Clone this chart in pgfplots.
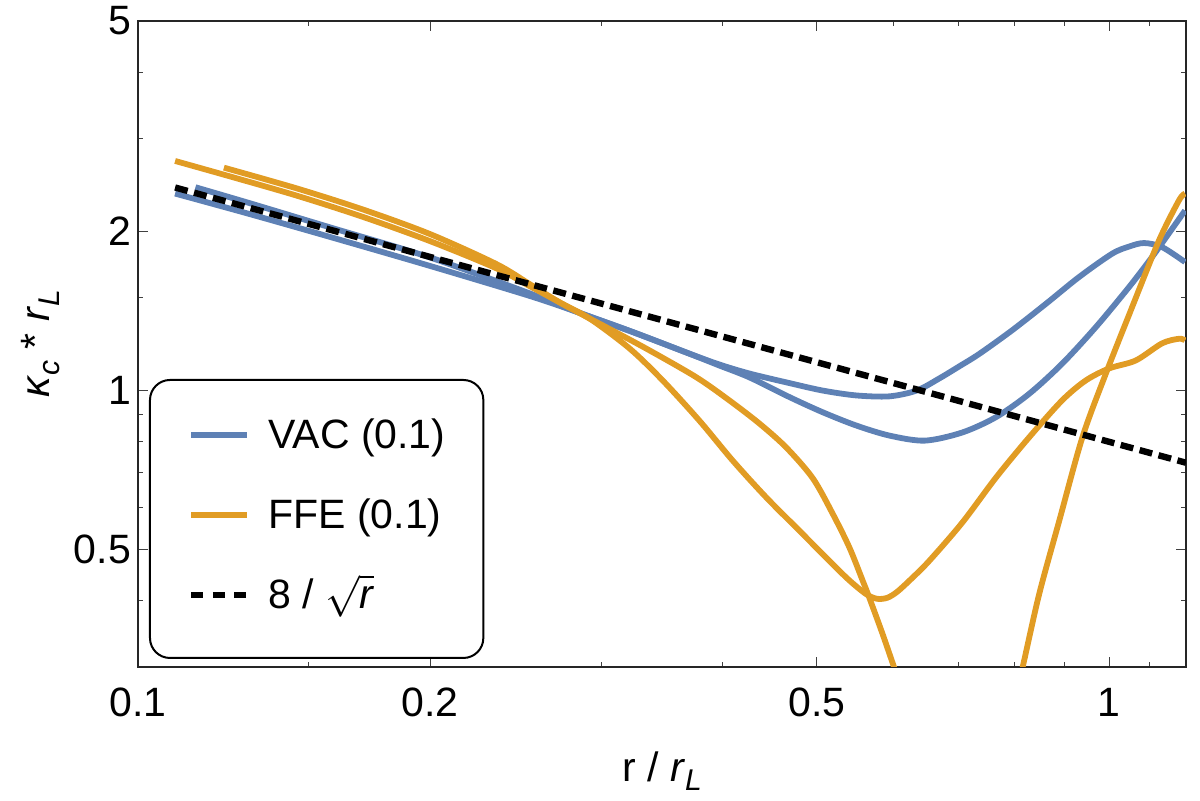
\documentclass[border=0pt]{standalone}
\usepackage{fontspec}
\setmainfont{Liberation Sans}
\usepackage{pgfplots}
\pgfplotsset{compat=1.18}
\definecolor{mblue}{RGB}{94,129,181}
\definecolor{morange}{RGB}{225,156,36}
\newcommand\sub[1]{\raisebox{-0.24em}{\fontsize{15}{15}\selectfont\textit{#1}}}
\begin{document}
\begin{tikzpicture}[font=\fontsize{20.5}{24.6}\selectfont]
\path[use as bounding box] (0,0) rectangle (600pt,400.5pt);
\begin{axis}[
  at={(69pt,67pt)}, anchor=south west,
  scale only axis, width=524pt, height=323pt,
  xmode=log, ymode=log,
  xmin=0.1, xmax=1.2, ymin=0.3, ymax=5,
  xtick={0.1,0.2,0.5,1}, xticklabels={0.1,0.2,0.5,1},
  ytick={0.5,1,2,5}, yticklabels={0.5,1,2,5},
  minor xtick={0.15,0.3,0.4,0.6,0.7,0.8,0.9,1.1},
  minor ytick={0.4,0.6,0.7,0.8,0.9,1.5,3,4},
  tick align=inside,
  major tick length=5pt, minor tick length=2.5pt,
  every tick/.style={black!75, line width=0.5pt},
  axis line style={black!85, line width=0.9pt},
  xticklabel style={yshift=-7pt},
  xlabel={r / \textit{r}\sub{L}},
  ylabel={\textit{κ}\sub{c} * \textit{r}\sub{L}},
  xlabel style={at={(axis description cs:0.5,-0.1765)}, anchor=base},
  ylabel style={at={(axis description cs:-0.084,0.5)}, anchor=base},
  legend image code/.code={\draw[#1] (0pt,7pt) -- (28pt,7pt);},
  legend style={
    at={(rel axis cs:0.0105,0.0124)}, anchor=south west,
    draw=black, line width=1pt, rounded corners=10pt,
    inner xsep=19pt, inner ysep=19.5pt, row sep=20pt,
    font=\fontsize{20.5}{24.6}\selectfont,
    nodes={inner sep=0pt, text height=15pt, text depth=5pt, anchor=base west},
    /tikz/every odd column/.append style={column sep=9pt},
  },
]
% VAC (0.1)
\addplot[mblue, line width=2.9pt, smooth, tension=0.5] coordinates {
(0.1092,2.358) (0.1304,2.156) (0.1576,1.953) (0.1998,1.721) (0.2531,1.510)
(0.2851,1.402) (0.3233,1.290) (0.3698,1.174) (0.3970,1.120) (0.4262,1.077)
(0.4686,1.033) (0.5070,1.000) (0.5488,0.979) (0.5938,0.975) (0.6337,1.000)
(0.6685,1.054) (0.7010,1.111) (0.7351,1.173) (0.7947,1.300) (0.8609,1.459)
(0.9314,1.640) (1.0072,1.815) (1.0500,1.874) (1.0865,1.901) (1.1337,1.868)
(1.1972,1.750)};
\addlegendentry{VAC (0.1)}
\addplot[mblue, line width=2.9pt, smooth, tension=0.5, forget plot] coordinates {
(0.1146,2.424) (0.1304,2.261) (0.1576,2.036) (0.1998,1.786) (0.2531,1.527)
(0.2851,1.402) (0.3233,1.290) (0.3698,1.174) (0.3970,1.115) (0.4262,1.059)
(0.4686,0.972) (0.5070,0.910) (0.5488,0.859) (0.5938,0.822) (0.6459,0.804)
(0.7060,0.833) (0.7651,0.891) (0.8275,0.986) (0.8946,1.124) (0.9690,1.318)
(1.0486,1.570) (1.1073,1.789) (1.1525,1.984) (1.1972,2.190)};
% FFE (0.1)
\addplot[morange, line width=2.9pt, smooth, tension=0.5] coordinates {
(0.1226,2.640) (0.1457,2.412) (0.1705,2.200) (0.1998,1.978) (0.2339,1.735)
(0.2531,1.590) (0.2718,1.468) (0.2917,1.369) (0.3208,1.201) (0.3470,1.045)
(0.3786,0.877) (0.4097,0.737) (0.4435,0.628) (0.4799,0.543) (0.5275,0.456)
(0.5467,0.4291) (0.5636,0.4108) (0.5771,0.4037) (0.5910,0.4055) (0.6051,0.4163)
(0.6256,0.4403) (0.6529,0.4763) (0.7060,0.5625) (0.7651,0.6852) (0.8275,0.816)
(0.8946,0.958) (0.9463,1.045) (1.0000,1.101) (1.0653,1.140) (1.1337,1.228)
(1.1803,1.253) (1.1972,1.244)};
\addlegendentry{FFE (0.1)}
\addplot[morange, line width=2.9pt, smooth, tension=0.5, forget plot] coordinates {
(0.1092,2.718) (0.1243,2.542) (0.1457,2.337) (0.1705,2.130) (0.1998,1.918)
(0.2339,1.703) (0.2531,1.576) (0.2718,1.468) (0.2917,1.369) (0.3011,1.328)
(0.3336,1.201) (0.3757,1.060) (0.4064,0.958) (0.4365,0.866) (0.4649,0.781)
(0.4952,0.683) (0.5192,0.585) (0.5402,0.505) (0.5575,0.437) (0.5664,0.4055)
(0.5846,0.346) (0.6009,0.299) (0.6154,0.2646)};
\addplot[morange, line width=2.9pt, smooth, tension=0.5, forget plot] coordinates {
(0.7986,0.259) (0.8144,0.299) (0.8472,0.412) (0.8885,0.567) (0.9387,0.816)
(0.9922,1.076) (1.0561,1.438) (1.1256,1.923) (1.1803,2.290) (1.1972,2.358)};
% 8/sqrt(r)
\addplot[black, line width=3.2pt, dash pattern=on 6.5pt off 3.3pt,
  legend image post style={dash pattern=on 6pt off 4.8pt}] coordinates {
(0.1092,2.421) (1.2,0.7303)};
\addlegendentry{8 / $\sqrt{\textit{r}}$}
\end{axis}
\end{tikzpicture}
\end{document}
